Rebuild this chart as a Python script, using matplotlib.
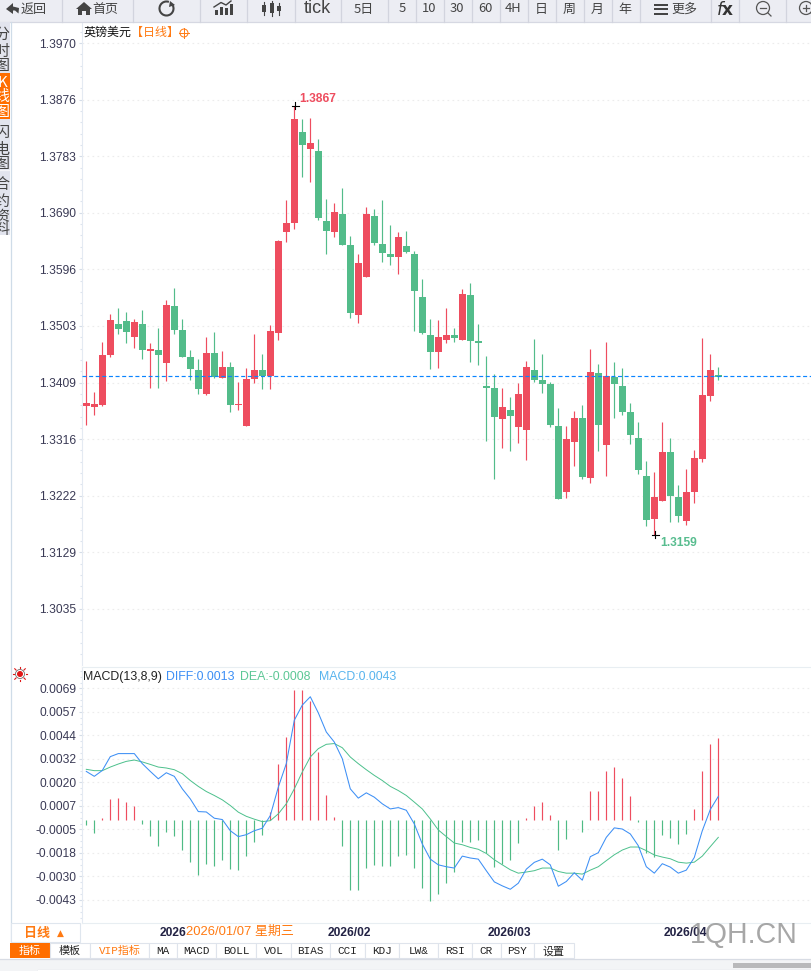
import matplotlib
matplotlib.use("Agg")
import matplotlib.pyplot as plt
from matplotlib.patches import Rectangle, Circle, Polygon, Arc
from matplotlib.ticker import AutoMinorLocator

plt.rcParams['font.family'] = ['Noto Sans CJK SC', 'DejaVu Sans']

# ---------- data ----------
opens = [1.33708,1.33686,1.33719,1.34545,1.35058,1.35107,1.34843,1.35058,1.34611,1.34628,
         1.34413,1.35355,1.34958,1.34512,1.34298,1.33901,1.34578,1.34165,1.34347,1.33719,
         1.33372,1.34149,1.34298,1.34198,1.34909,1.36577,1.36726,1.38229,1.37949,1.37915,
         1.36759,1.36577,1.36875,1.36363,1.35206,1.35834,1.36842,1.36379,1.36214,1.36164,
         1.36346,1.36214,1.35504,1.34876,1.34595,1.34793,1.34876,1.34793,1.35537,1.34777,
         1.34033,1.34000,1.33488,1.33637,1.33356,1.33306,1.34298,1.34132,1.34066,1.33372,
         1.32282,1.33108,1.33505,1.32513,1.34248,1.33059,1.34182,1.34033,1.33604,1.33174,
         1.32546,1.31836,1.32133,1.32943,1.32200,1.31803,1.32282,1.32827,1.33868,1.34215]
highs = [1.34446,1.33934,1.34760,1.35223,1.35322,1.35256,1.35140,1.35289,1.34744,1.34991,
         1.35454,1.35652,1.35140,1.34628,1.34479,1.34843,1.34925,1.34611,1.34430,1.34099,
         1.34331,1.34892,1.34562,1.35041,1.36445,1.37106,1.38659,1.38444,1.38461,1.38114,
         1.37123,1.37056,1.37304,1.36511,1.36214,1.36990,1.36957,1.37106,1.36693,1.36577,
         1.36594,1.36263,1.35801,1.35140,1.35124,1.35322,1.34991,1.35636,1.35735,1.35058,
         1.34529,1.34232,1.34000,1.33852,1.34083,1.34446,1.34810,1.34562,1.34099,1.33670,
         1.33372,1.33620,1.33719,1.34645,1.34397,1.34760,1.34430,1.34331,1.33752,1.33439,
         1.32794,1.32613,1.33439,1.33174,1.32398,1.32662,1.32976,1.34826,1.34562,1.34347]
lows = [1.33389,1.33554,1.33703,1.34512,1.34892,1.34744,1.34661,1.34479,1.34000,1.34000,
        1.34116,1.34892,1.34512,1.34132,1.33901,1.33885,1.34160,1.34165,1.33604,1.33637,
        1.33372,1.34083,1.33984,1.33984,1.34793,1.36412,1.36627,1.37486,1.37403,1.36776,
        1.36214,1.36495,1.36363,1.35157,1.35074,1.35834,1.36363,1.36082,1.36032,1.35884,
        1.36230,1.34942,1.34892,1.34314,1.34331,1.34744,1.34760,1.34793,1.34430,1.34380,
        1.33125,1.32497,1.33009,1.32959,1.33092,1.32811,1.34099,1.33918,1.33356,1.32167,
        1.32183,1.32712,1.32497,1.32431,1.32959,1.32546,1.33505,1.33554,1.33075,1.32580,
        1.31720,1.31572,1.32133,1.31787,1.31787,1.31737,1.32100,1.32778,1.33785,1.34132]
closes = [1.33752,1.33736,1.34545,1.35124,1.34975,1.34925,1.35091,1.34628,1.34645,1.34545,
          1.35371,1.34958,1.34512,1.34314,1.33984,1.34578,1.34177,1.34347,1.33719,1.33736,
          1.34149,1.34298,1.34198,1.34942,1.36429,1.36726,1.38444,1.38015,1.38048,1.36809,
          1.36594,1.36908,1.36363,1.35239,1.36065,1.36875,1.36396,1.36230,1.36164,1.36495,
          1.36247,1.35603,1.34909,1.34595,1.34843,1.34876,1.34826,1.35553,1.34777,1.34744,
          1.34000,1.33521,1.33686,1.33538,1.33901,1.34347,1.34132,1.34066,1.33389,1.32167,
          1.33158,1.33505,1.32530,1.34265,1.33389,1.34198,1.34066,1.33604,1.33224,1.32646,
          1.31820,1.32200,1.32943,1.32216,1.31886,1.32282,1.32844,1.33885,1.34298,1.34182]
last_price = 1.34193
price_ticks = [1.39700,1.38765,1.37830,1.36895,1.35960,1.35025,1.34090,1.33155,1.32220,1.31285,1.30350]
price_labels = ['1.3970','1.3876','1.3783','1.3690','1.3596','1.3503','1.3409','1.3316','1.3222','1.3129','1.3035']

diff = [256,230,261,334,350,350,350,297,256,217,249,230,164,111,44,42,9,2,-57,-88,
        -78,-57,-44,23,173,297,526,606,650,565,464,411,323,164,115,143,120,85,58,65,
        51,-21,-127,-207,-237,-247,-254,-191,-201,-207,-268,-327,-348,-366,-334,-260,-224,-207,-237,-350,
        -325,-279,-318,-194,-173,-92,-42,-48,-74,-136,-247,-281,-231,-249,-281,-265,-198,-57,55,124]
dea = [267,260,260,279,295,309,316,306,293,279,274,265,244,208,177,150,129,106,76,41,
       19,4,-9,-4,32,85,164,253,332,376,399,403,381,332,297,265,235,208,177,155,
       129,94,58,5,-53,-88,-122,-131,-145,-155,-177,-210,-237,-263,-281,-275,-268,-254,-254,-272,
       -281,-281,-286,-265,-247,-215,-184,-159,-143,-143,-162,-185,-196,-205,-223,-228,-223,-191,-141,-92]
hist = [-25,-67,12,113,118,92,76,-19,-83,-136,-62,-83,-157,-221,-290,-231,-242,-210,-258,-263,
        -189,-115,-78,44,293,436,685,685,627,357,129,18,-136,-369,-369,-253,-237,-242,-242,-189,
        -184,-253,-358,-427,-390,-332,-274,-115,-115,-104,-173,-247,-231,-210,-120,12,71,97,28,-157,
        -99,2,-62,150,150,256,277,219,124,-9,-173,-194,-78,-94,-125,-72,55,256,399,431]
macd_ticks = [694,570,446,322,198,74,-50,-174,-298,-422]
macd_labels = ['0.0069','0.0057','0.0044','0.0032','0.0020','0.0007','-0.0005','-0.0018','-0.0030','-0.0043']
date_ticks = [9.2,30.2,50.2,72.2]
date_labels = ['2026','2026/02','2026/03','2026/04']

RED='#ee4d5f'; GREEN='#53bc8a'; BLUE='#3d8ff5'; DEAG='#4cc08c'; ORANGE='#ff7a12'
LAT='Liberation Sans'
W,H=812,971
fig=plt.figure(figsize=(W/100,H/100),dpi=100,facecolor='white')
def axpx(x0,y0,x1,y1,**k):
    return fig.add_axes([x0/W,1-y1/H,(x1-x0)/W,(y1-y0)/H],**k)
XL=((82-86.3)/8,(812-86.3)/8)
px=lambda s:s*0.72

# ---------- price panel ----------
ax=axpx(82,22,812,665)
ax.set_xlim(*XL); ax.set_ylim(1.29424,1.40047)
x=list(range(len(opens)))
cols=[RED if c>=o else GREEN for o,c in zip(opens,closes)]
ax.vlines(x,lows,highs,colors=cols,lw=0.85,zorder=3)
ax.bar(x,[abs(c-o) for o,c in zip(opens,closes)],bottom=[min(o,c) for o,c in zip(opens,closes)],
       width=0.875,color=cols,linewidth=0,zorder=4)
ax.axhline(last_price,color='#0a84ff',lw=0.85,ls=(0,(3.4,2.2)),zorder=5)
ax.set_yticks(price_ticks); ax.set_yticklabels(price_labels,fontsize=px(12),color='#3a3a55',family=LAT)
ax.yaxis.set_minor_locator(AutoMinorLocator(5))
ax.tick_params(axis='y',which='major',length=2,width=0.8,color='#d5dde8',pad=2)
ax.tick_params(axis='y',which='minor',length=1.5,width=0.8,color='#dde4ee')
ax.set_xticks([])
ax.grid(axis='y',which='major',color='#ececec',lw=0.8,ls=(0,(1.5,3)))
ax.set_axisbelow(True)
for s in ['top','right','bottom']: ax.spines[s].set_visible(False)
ax.spines['left'].set_color('#e4eaf2'); ax.spines['left'].set_linewidth(0.8)

# ---------- MACD panel ----------
am=axpx(82,667,812,923)
am.set_xlim(*XL); am.set_ylim(-544,807)
hc=[RED if v>=0 else '#4fbb85' for v in hist]
am.vlines(x,0,hist,colors=hc,lw=0.85,zorder=2)
am.plot(x,diff,color=BLUE,lw=0.75,zorder=4)
am.plot(x,dea,color=DEAG,lw=0.7,zorder=3)
am.set_yticks(macd_ticks); am.set_yticklabels(macd_labels,fontsize=px(12),color='#3a3a55',family=LAT)
am.yaxis.set_minor_locator(AutoMinorLocator(4))
am.tick_params(axis='y',which='major',length=2,width=0.8,color='#d5dde8',pad=2)
am.tick_params(axis='y',which='minor',length=1.5,width=0.8,color='#dde4ee')
am.set_xticks(date_ticks); am.set_xticklabels(date_labels,fontsize=px(12),color='#222244',family=LAT,weight='bold',ha='left')
am.tick_params(axis='x',length=0,pad=3)
am.grid(axis='y',which='major',color='#ececec',lw=0.8,ls=(0,(1.5,3)))
am.set_axisbelow(True)
am.spines['right'].set_visible(False)
am.spines['top'].set_color('#e8eef2')
am.spines['left'].set_color('#e4eaf2'); am.spines['bottom'].set_color('#e8eef2')

# ---------- chrome overlay ----------
c=axpx(0,0,W,H); c.set_xlim(0,W); c.set_ylim(H,0); c.axis('off'); c.patch.set_alpha(0)
def R(x0,y0,x1,y1,fc,ec='none',lw=0.8,z=1): c.add_patch(Rectangle((x0,y0),x1-x0,y1-y0,fc=fc,ec=ec,lw=lw,zorder=z))
def T(x,y,s,size=12,color='#444',ha='center',va='center',z=5,**k):
    return c.text(x,y,s,fontsize=px(size),color=color,ha=ha,va=va,zorder=z,**k)
# toolbar
R(0,0,W,22,'#ecedf3')
c.plot([0,W],[22,22],color='#d6d8e2',lw=0.9)
for s in [62,133,200,247,295,341,388,416,444,472,500,528,556,584,612,640,711,739,786]:
    c.plot([s,s],[0,22],color='#d2d4de',lw=0.9)
c.add_patch(Polygon([[6,9],[13,3],[13,6.5],[19,8],[18.5,13.5],[15,10.5],[13,10.5],[13,14]],fc='#444',ec='none',zorder=5))
T(34,9,'返回',13)
c.add_patch(Polygon([[76,9],[84,2],[92,9],[90,9],[90,15],[86,15],[86,11],[82,11],[82,15],[78,15],[78,9]],fc='#444',ec='none',zorder=5))
T(105,9,'首页',13)
c.add_patch(Arc((166.5,8.5),14,14,theta1=-30,theta2=290,ec='#444',lw=1.5,zorder=5))
c.add_patch(Polygon([[170,1],[175,5],[169,7]],fc='#444',zorder=5))
for bx,bh in zip([215,220,225,230],[5,8,7,11]): R(bx,15-bh,bx+3.3,15,'#444',z=5)
c.plot([214,221,226,231],[7,2.5,5,1],color='#444',lw=1,zorder=5)
for cx,top,bot,h0,h1 in [(264,5,12,2,15),(272,3,13,1,16),(279,6,11,3,15)]:
    c.plot([cx,cx],[h0,h1],color='#444',lw=0.8,zorder=5); R(cx-2,top,cx+2,bot,'#444',z=5)
T(317,8.5,'tick',18,family=LAT)
for xx,s in [(364,'5日'),(402,'5'),(429,'10'),(457,'30'),(485,'60'),(513,'4H'),(541,'日'),(569,'周'),(597,'月'),(625,'年')]:
    T(xx,9,s,13)
for yy in [5,9.5,14]: R(654,yy-1,668,yy+1,'#444',z=5)
T(684,9,'更多',13)
T(725,10,'$\\mathit{f}$x',17,color='#333',family='DejaVu Sans',weight='bold')
for xx,pl in [(763,False),(806,True)]:
    c.add_patch(Circle((xx,8),6.5,fc='none',ec='#555',lw=0.9,zorder=5))
    c.plot([xx-3,xx+3],[8,8],color='#555',lw=0.9,zorder=5)
    c.plot([xx+5,xx+8],[13,16],color='#555',lw=0.9,zorder=5)
    if pl: c.plot([xx,xx],[5,11],color='#555',lw=0.9,zorder=5)

# side tabs (narrow in the reference, so the characters are clipped)
side=axpx(0,22,10,235); side.set_xlim(0,10); side.set_ylim(235,22); side.set_facecolor('#e2e4ee')
side.set_xticks([]); side.set_yticks([])
for s in side.spines.values(): s.set_visible(False)
side.add_patch(Rectangle((0,73),10,46,fc='#ff6e00',ec='none'))
side.plot([0,10],[170,170],color='#f4f4f8',lw=0.9)
for txt,ys,col in [('分时图',[35,52,66],'#444'),('K线图',[83,97,112],'white'),('闪电图',[133,150,164],'#444'),('合约资料',[185,202,217,230],'#444')]:
    for ch,yy in zip(txt,ys):
        side.text(2,yy,ch,fontsize=px(15),color=col,ha='center',va='center',clip_on=True)
c.plot([10.8,10.8],[22,942],color='#cfdce8',lw=0.9)

# header text
T(83,32,'英镑美元',12,color='#111',ha='left')
T(131,32,'【日线】',12,color=ORANGE,ha='left')
c.add_patch(Circle((184,33),4,fc='none',ec=ORANGE,lw=0.7,zorder=5))
c.plot([179,189],[33,33],color=ORANGE,lw=0.7,zorder=5); c.plot([184,184],[28,38],color=ORANGE,lw=0.7,zorder=5)

# extrema
T(299,98.5,'1.3867',12,color=RED,ha='left',weight='bold',family=LAT)
T(660,542.5,'1.3159',12,color='#58bd8f',ha='left',weight='bold',family=LAT)
for cx,cy in [(295.5,106),(655.5,535)]:
    c.plot([cx-3.5,cx+3.5],[cy,cy],color='black',lw=0.8,zorder=6)
    c.plot([cx,cx],[cy-3.5,cy+3.5],color='black',lw=0.8,zorder=6)

# MACD header
T(83,677,'MACD(13,8,9)',12.4,color='#222',ha='left',family=LAT)
T(166,677,'DIFF:0.0013',12.4,color=BLUE,ha='left',family=LAT)
T(240,677,'DEA:-0.0008',12.4,color='#5cc795',ha='left',family=LAT)
T(319,677,'MACD:0.0043',12.4,color='#58b4ee',ha='left',family=LAT)
c.add_patch(Circle((20,674),3,fc='#e01818',ec='none',zorder=5))
c.add_patch(Circle((20,674),4.5,fc='none',ec='#555',lw=0.5,zorder=5))
for dx,dy in [(-7,0),(7,0),(0,-7),(0,7),(-5,-5),(5,-5),(-5,5),(5,5)]:
    c.plot([20+dx*0.8,20+dx*1.05],[674+dy*0.8,674+dy*1.05],color='#e01818',lw=0.8,zorder=5)

# date crosshair label and period box
R(186,924,293,941,'white',z=3)
T(186,932,'2026/01/07 星期三',13,color=ORANGE,ha='left',z=5,family=[LAT,'Noto Sans CJK SC'])
R(11,923,80,942,'white',ec='#dfe6ee',z=3)
T(37.5,933,'日线',13,color=ORANGE,weight='bold')
T(60,933,'▲',9,color=ORANGE,family='DejaVu Sans')

# tabs
tabs=[('指标',10,50),('模板',50,90),('VIP指标',90,149),('MA',149,177),('MACD',177,216),('BOLL',216,256),('VOL',256,291),
      ('BIAS',291,330),('CCI',330,365),('KDJ',365,399),('LW&',399,438),('RSI',438,472),('CR',472,501),('PSY',501,534),('设置',534,574)]
R(0,943,W,959,'white',z=2)
for i,(s,a,b) in enumerate(tabs):
    if i==0:
        R(a,943,b,958,'#ff6e00',z=3); col='white'
    else:
        R(a,943,b,958,'white',ec='#dfe4ec',z=3); col=ORANGE if s.startswith('VIP') else '#222'
    T((a+b)/2,951,s,11,color=col,family=['Liberation Mono','Noto Sans CJK SC'])
R(0,959,W,971,'#f3f4f6',z=2)
c.plot([0,W],[959,959],color='#d8dce4',lw=0.9,zorder=3)
R(733,963,W,968,'#b9b9bb',z=3)
c.plot([38,W],[970,970],color='#d8dce4',lw=0.9,zorder=3)
R(38,970,W,971,'white',z=3)

# watermark
T(744,935,'1QH.CN',28.5,color='#8a8a8a',alpha=0.75,family=LAT,z=7)

fig.savefig('out.png',dpi=100)
